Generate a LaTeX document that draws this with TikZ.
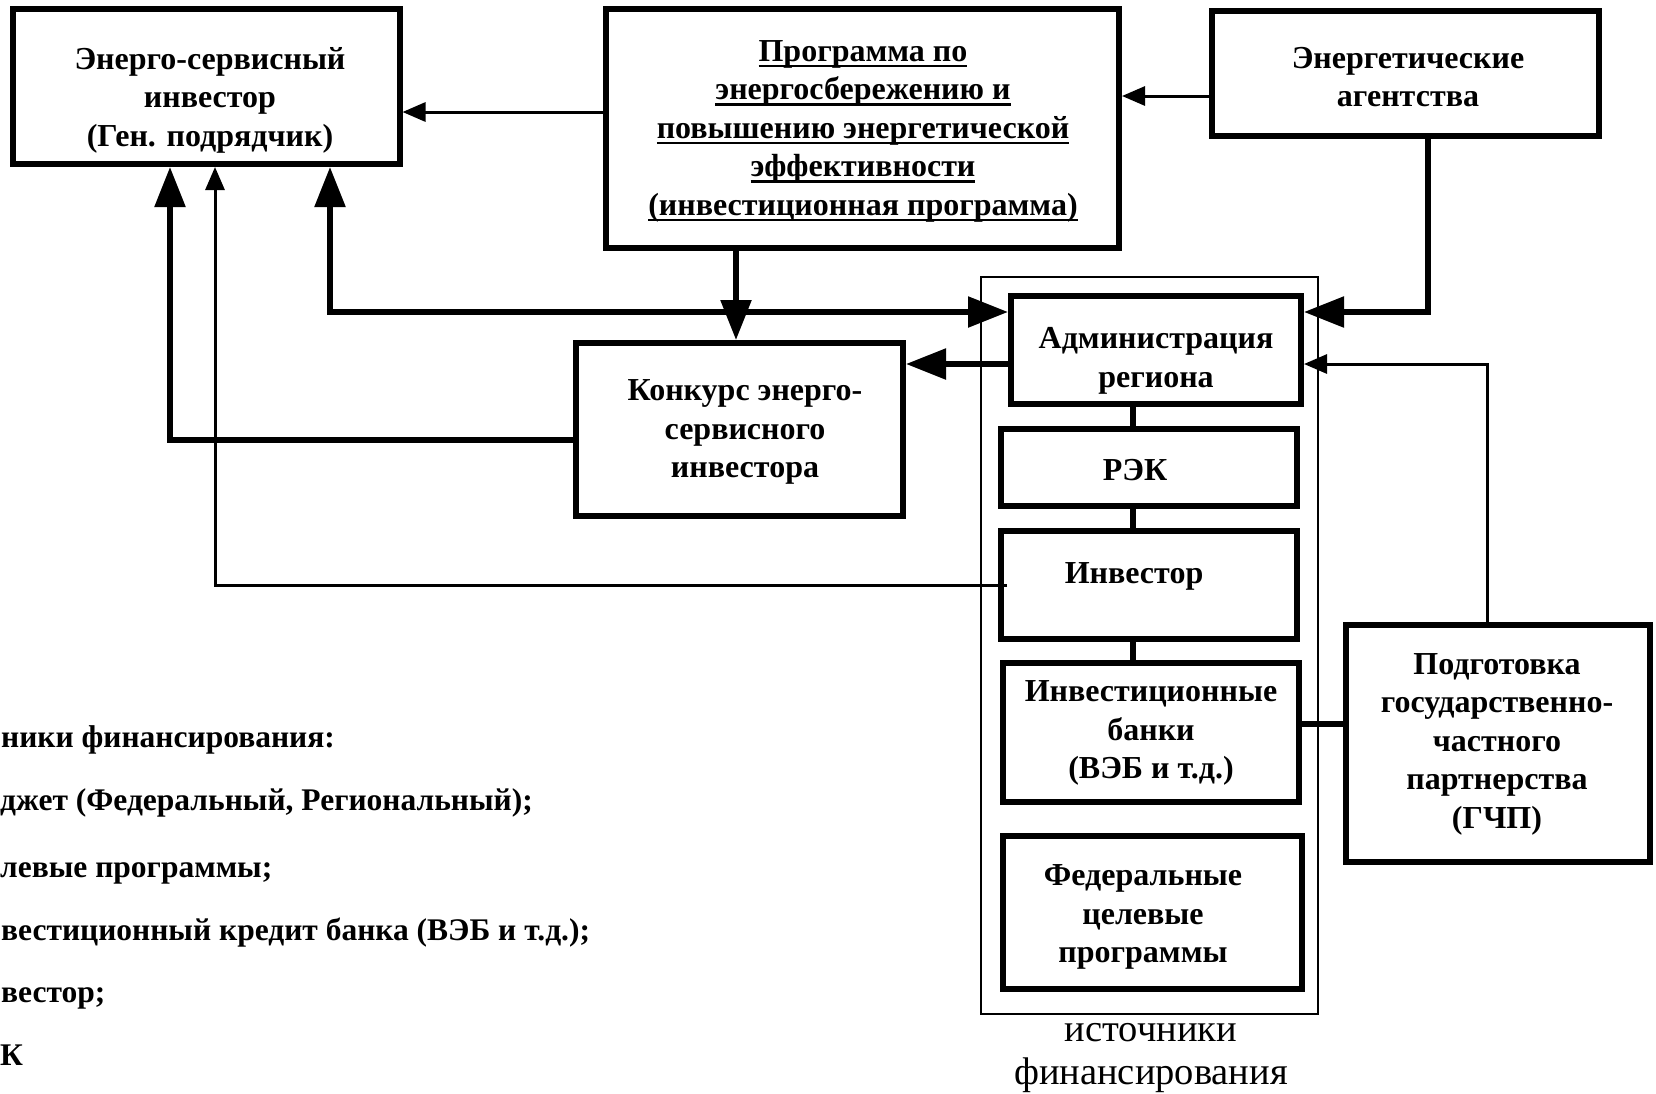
\documentclass[tikz,border=0pt]{standalone}
\usepackage{fontspec}
\setmainfont{Liberation Serif}
\usetikzlibrary{arrows.meta,calc}
\newcommand\ulx[1]{\setbox0\hbox{#1}\rlap{\rule[-6pt]{\wd0}{2.5pt}}\box0}
\begin{document}
\begin{tikzpicture}[x=1pt,y=-1pt,
  box/.style={draw, line width=6pt, inner sep=0pt, rectangle},
  txt/.style={align=center, font=\fontsize{32}{38.5}\selectfont\bfseries, inner sep=0pt},
  lst/.style={anchor=base west, font=\fontsize{31.5}{36}\selectfont\bfseries, inner sep=0pt},
  thk/.style={line width=5.5pt},
  thn/.style={line width=3pt},
  bigtip/.style={-{Triangle[length=40pt,width=30pt]}},
  smalltip/.style={-{Triangle[length=23pt,width=19pt]}}]
\useasboundingbox (0,0) rectangle (1656,1093);

% boxes
\node[box, minimum width=387pt, minimum height=155pt] (esi) at (206,86.5) {};
\node[txt] (esit) at (210,100) {Энерго-сервисный\\инвестор\\(Ген. подрядчик)};

\node[box, minimum width=513pt, minimum height=239pt] (prog) at (862.5,128.5) {};
\node[txt] (progt) at (863,131) {\ulx{Программа по}\\\ulx{энергосбережению и}\\\ulx{повышению энергетической}\\\ulx{эффективности}\\\ulx{(инвестиционная программа)}};

\node[box, minimum width=387pt, minimum height=125pt] (agen) at (1405.5,73.5) {};
\node[txt] (agent) at (1408,77) {Энергетические\\агентства};

\node[box, minimum width=327pt, minimum height=173pt] (konk) at (739.5,429.5) {};
\node[txt] (konkt) at (745,432) {Конкурс энерго-\\сервисного\\инвестора};

\node[draw, line width=2.5pt, inner sep=0pt, minimum width=337pt, minimum height=737pt] (src) at (1149.5,645.5) {};

\node[box, minimum width=290pt, minimum height=108pt] (admin) at (1156,350) {};
\node[txt] (admint) at (1156,361) {Администрация\\региона};

\node[box, minimum width=296pt, minimum height=77pt] (rek) at (1149,467.5) {};
\node[txt] (rekt) at (1135,470) {РЭК};

\node[box, minimum width=296pt, minimum height=108pt] (inv) at (1149,585) {};
\node[txt] (invt) at (1134,576) {Инвестор};

\node[box, minimum width=296pt, minimum height=139pt] (bank) at (1151,732.5) {};
\node[txt] (bankt) at (1151,733) {Инвестиционные\\банки\\(ВЭБ и т.д.)};

\node[box, minimum width=299pt, minimum height=153pt] (fed) at (1152.5,912.5) {};
\node[txt] (fedt) at (1143,917) {Федеральные\\целевые\\программы};

\node[box, minimum width=304pt, minimum height=237pt] (gchp) at (1498,743.5) {};
\node[txt] (gchpt) at (1497,744) {Подготовка\\государственно-\\частного\\партнерства\\(ГЧП)};

\node[align=center, inner sep=0pt, font=\fontsize{38.5}{43}\selectfont] (srcl) at (1151,1058) {источники\\финансирования};

% left list
\node[lst] (l1) at (1,747) {ники финансирования:};
\node[lst] (l2) at (0,810) {джет (Федеральный, Региональный);};
\node[lst] (l3) at (0,877) {левые программы;};
\node[lst] (l4) at (1,940) {вестиционный кредит банка (ВЭБ и т.д.);};
\node[lst] (l5) at (1,1002) {вестор;};
\node[lst] (l6) at (0,1065) {К};

% connectors
\draw[thn, smalltip] (prog.west |- 0,112) -- (esi.east |- 0,112);
\draw[thn, smalltip] (agen.west |- 0,96) -- (prog.east |- 0,96);
\draw[thk, bigtip] (prog.south -| 736,0) -- (konk.north -| 736,0);
\draw[thk, {Triangle[length=40pt,width=30pt]}-{Triangle[length=40pt,width=30pt]}] (esi.south -| 330,0) |- ([yshift=38pt]admin.west);
\draw[thk, bigtip] (agen.south -| 1428,0) |- ([yshift=38pt]admin.east);
\draw[thk, bigtip] ([yshift=-14pt]admin.west) -- ([yshift=-14pt]admin.west -| konk.east);
\draw[thn, smalltip] (gchp.north -| 1487,0) |- ([yshift=-14pt]admin.east);
\draw[thk, bigtip] ([yshift=-10.5pt]konk.west) -| (esi.south -| 170,0);
\draw[thn, smalltip] ([xshift=9pt]inv.west) -- (inv.west -| 215,0) -- (esi.south -| 215,0);
\draw[thk] (admin.south -| 1133,0) -- (rek.north -| 1133,0);
\draw[thk] (rek.south -| 1133,0) -- (inv.north -| 1133,0);
\draw[thk] (inv.south -| 1133,0) -- (bank.north -| 1133,0);
\draw[thk] (bank.east |- 0,724) -- (gchp.west |- 0,724);
\end{tikzpicture}
\end{document}
